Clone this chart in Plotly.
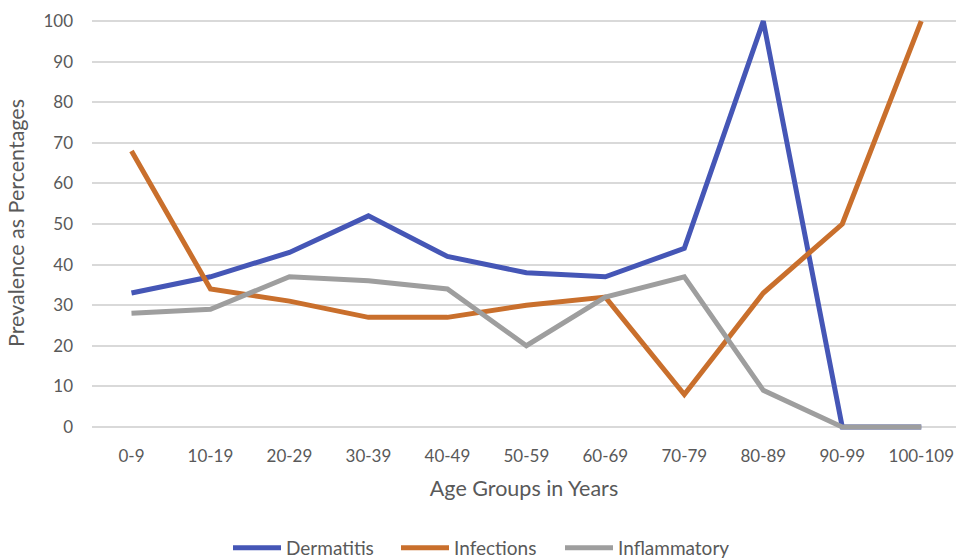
import plotly.graph_objects as go

age_groups = ["0-9", "10-19", "20-29", "30-39", "40-49", "50-59",
              "60-69", "70-79", "80-89", "90-99", "100-109"]
dermatitis = [33, 37, 43, 52, 42, 38, 37, 44, 100, 0, 0]
infections = [68, 34, 31, 27, 27, 30, 32, 8, 33, 50, 100]
inflammatory = [28, 29, 37, 36, 34, 20, 32, 37, 9, 0, 0]

series = [
    ("Dermatitis", dermatitis, "#4556B6", "legend", 228),
    ("Infections", infections, "#C96F2C", "legend2", 396),
    ("Inflammatory", inflammatory, "#9E9E9E", "legend3", 560),
]

font_family = "Lato, 'Open Sans', sans-serif"
text_color = "#595959"
W, H = 956, 559

fig = go.Figure()
legends = {}
for name, values, color, legend_id, left_px in series:
    fig.add_trace(go.Scatter(
        x=list(range(len(age_groups))), y=values, name=name, mode="lines",
        line=dict(color=color, width=5), legend=legend_id,
    ))
    legends[legend_id] = dict(
        orientation="h", xref="container", yref="container",
        x=left_px / W, xanchor="left", y=0.02, yanchor="middle",
        itemwidth=48, font=dict(size=19, color=text_color, family=font_family),
        bgcolor="rgba(0,0,0,0)",
    )

fig.update_layout(
    width=W, height=H,
    margin=dict(l=92, r=0, t=13, b=126),
    paper_bgcolor="white", plot_bgcolor="white",
    font=dict(family=font_family, size=17, color=text_color),
    showlegend=True,
    xaxis=dict(
        tickmode="array", tickvals=list(range(len(age_groups))),
        ticktext=age_groups, range=[-0.5, 10.44],
        showgrid=False, zeroline=False, showline=False,
        ticklabelstandoff=11,
        title=dict(text="Age Groups in Years", standoff=15, font=dict(size=21.5)),
        tickfont=dict(size=17),
    ),
    yaxis=dict(
        range=[-1.5, 102], tick0=0, dtick=10,
        showgrid=True, gridcolor="#D9D9D9", gridwidth=1.5,
        zeroline=False, showline=False,
        ticklabelstandoff=18,
        title=dict(text="Prevalence as Percentages", standoff=12, font=dict(size=21.5)),
        tickfont=dict(size=17),
    ),
    **legends,
)

fig.write_html("out.html")
